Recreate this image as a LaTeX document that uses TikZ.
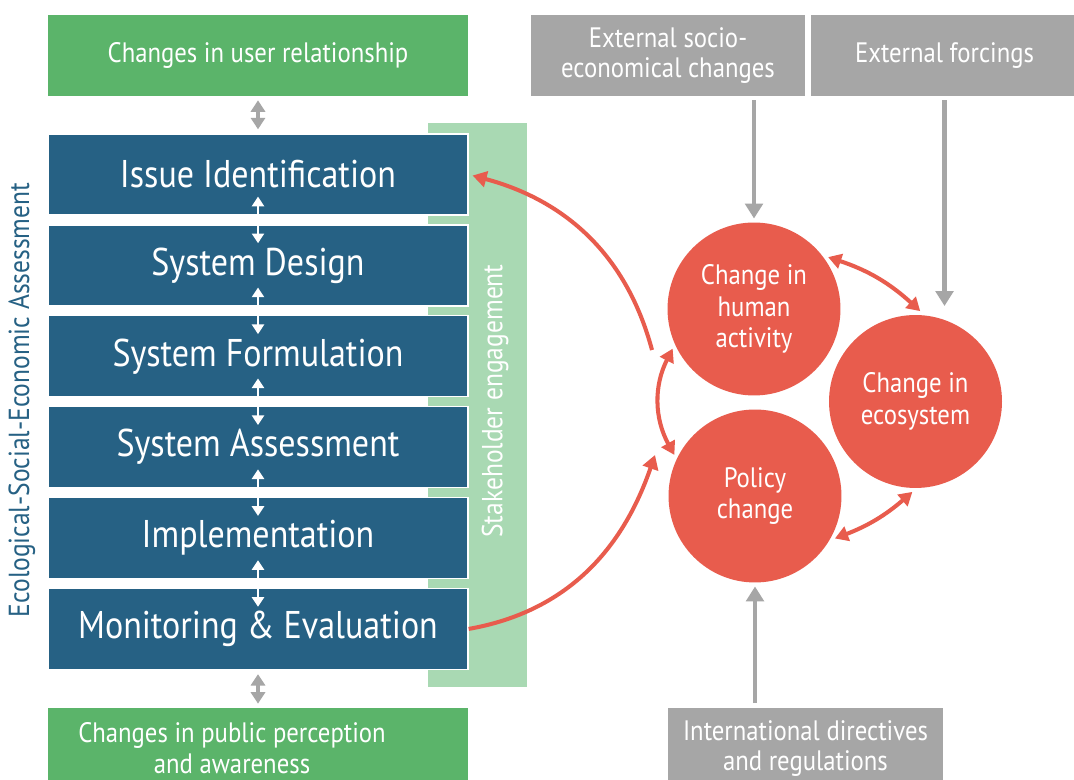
\documentclass[tikz,border=0pt]{standalone}
\usepackage{fontspec}
\setmainfont{PT Sans}[FakeStretch=0.88]
\usetikzlibrary{arrows.meta,positioning}

\definecolor{stageblue}{HTML}{266184}
\definecolor{changegreen}{HTML}{5BB46A}
\definecolor{palegreen}{HTML}{A9D9B3}
\definecolor{extgray}{HTML}{A6A6A6}
\definecolor{loopred}{HTML}{E85C4D}

\tikzset{
    stage/.style={fill=stageblue, draw=white, line width=0.8pt, minimum width=8.4cm, minimum height=1.62cm,
        inner sep=0pt, text=white, font=\fontsize{22}{26}\selectfont},
    changebox/.style={fill=changegreen, minimum width=8.4cm, minimum height=1.62cm, inner sep=0pt,
        text=white, align=center, font=\fontsize{16}{17.5}\selectfont},
    extbox/.style={fill=extgray, minimum height=1.62cm, inner sep=0pt,
        text=white, align=center, font=\fontsize{16}{17}\selectfont},
    loopnode/.style={circle, fill=loopred, minimum size=3.46cm, inner sep=0pt, outer sep=0.08cm,
        text=white, align=center, font=\fontsize{16}{17.8}\selectfont},
    steplink/.style={white, line width=1pt, {Triangle[width=7pt,length=5.5pt]}-{Triangle[width=7pt,length=5.5pt]},
        shorten <=-0.38cm, shorten >=-0.38cm},
    graydouble/.style={extgray, line width=2.2pt, {Triangle[width=8pt,length=6.5pt]}-{Triangle[width=8pt,length=6.5pt]},
        shorten <=0.08cm, shorten >=0.08cm},
    graylink/.style={extgray, line width=2.6pt, -{Triangle[width=10pt,length=8.5pt]}},
    redlink/.style={loopred, line width=2.3pt, -{Triangle[width=9pt,length=8pt]}},
    redboth/.style={loopred, line width=2.3pt, {Triangle[width=8.5pt,length=7.5pt]}-{Triangle[width=8.5pt,length=7.5pt]}}
}

\begin{document}
\begin{tikzpicture}[x=0.02cm, y=0.02cm]
    \useasboundingbox (0,0) rectangle (1074,780);
    \fill[white] (0,0) rectangle (1074,780);

    % stakeholder bar sits behind the stages
    \node (stake) [fill=palegreen, minimum width=1.98cm, minimum height=11.28cm, inner sep=0pt] at (477.5,375) {};
    \node (staketxt) [rotate=90, text=white, font=\fontsize{16.5}{18}\selectfont] at (495,379) {Stakeholder engagement};
    \node (esea) [rotate=90, text=stageblue, font=\fontsize{16.5}{18}\selectfont] at (22,380) {Ecological-Social-Economic Assessment};

    % stages
    \node (issue) [stage] at (258,605.5) {Issue Identification};
    \node (design) [stage, below=0.17cm of issue] {System Design};
    \node (formul) [stage, below=0.17cm of design] {System Formulation};
    \node (assess) [stage, below=0.17cm of formul] {System Assessment};
    \node (impl) [stage, below=0.17cm of assess] {Implementation};
    \node (monit) [stage, below=0.17cm of impl] {Monitoring \& Evaluation};

    \foreach \a/\b in {issue/design, design/formul, formul/assess, assess/impl, impl/monit}
        \draw[steplink] (\a) -- (\b);

    % green boxes
    \node (users) [changebox] at (258,724.5) {Changes in user relationship};
    \node (public) [changebox, minimum height=1.64cm] at (258,31) {};
    \node (publictxt) [text=white, align=center, font=\fontsize{16}{17.5}\selectfont] at (232,32) {Changes in public perception\\and awareness};
    \draw[graydouble] (users) -- (issue);
    \draw[graydouble] (monit) -- (public);

    % external drivers
    \node (socio) [extbox, minimum width=5.48cm] at (668,724.5) {External socio-\\economical changes};
    \node (forcing) [extbox, minimum width=5.34cm] at (944.5,724.5) {External forcings};
    \node (intl) [extbox, minimum width=5.5cm, minimum height=1.64cm] at (805.5,31.5) {International directives\\and regulations};

    % change loop
    \node (human) [loopnode] at (754,471) {Change in\\human\\activity};
    \node (eco) [loopnode] at (915.5,378.5) {Change in\\ecosystem};
    \node (policy) [loopnode] at (755,284) {Policy\\change};

    \draw[graylink, shorten <=0.08cm] (human |- socio.south) -- (human.north);
    \draw[graylink, shorten <=0.08cm, shorten >=0.1cm] (forcing.south) -- (forcing.south |- eco.north);
    \draw[graylink, shorten <=0.08cm] (policy |- intl.north) -- (policy.south);

    \draw[redboth] (human.206) to[bend right=28] (policy.153);
    \draw[redboth] (human.35) to[bend left=12] (eco.87);
    \draw[redboth] (policy.-28) to[bend right=10] (eco.268);

    % feedback to the stages
    \coordinate (backstart) at (652,430);
    \coordinate (fwdend) at (655,325);
    \draw[redlink, shorten >=0.08cm] (backstart) to[out=105, in=-15] (issue.east);
    \draw[redlink] (monit.east) to[out=10, in=251] (fwdend);
\end{tikzpicture}
\end{document}
